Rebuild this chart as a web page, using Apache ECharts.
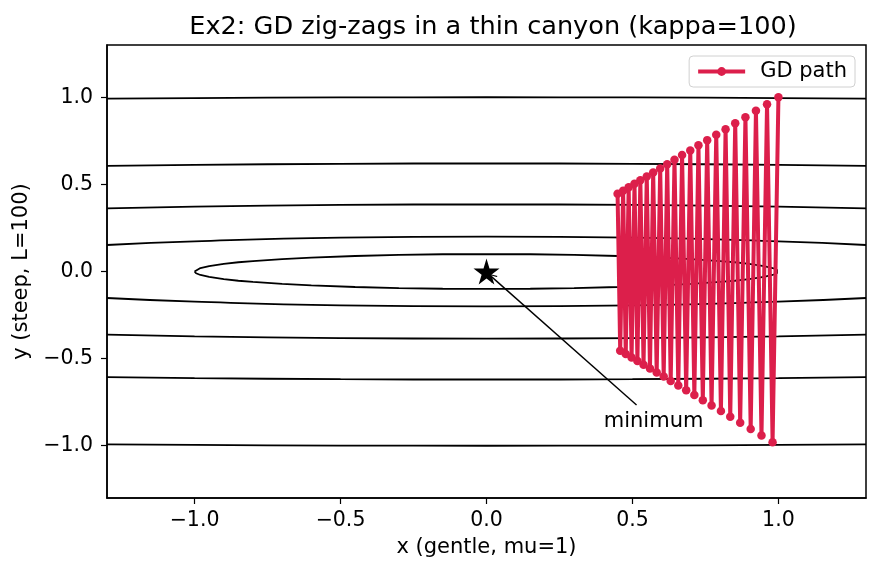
<!DOCTYPE html>
<html>
<head>
<meta charset="utf-8">
<script src="https://cdn.jsdelivr.net/npm/echarts@6/dist/echarts.min.js"></script>
<style>
  body { margin: 0; background: #fff; }
  #main { width: 880px; height: 573px; }
</style>
</head>
<body>
<div id="main"></div>
<script>
  // tick labels
  var ticks = [-1.0, -0.5, 0.0, 0.5, 1.0];

  // contour lines (upper half, mirrored below), read at these x positions
  var contourXs = [-1.3, -1.0, -0.5, 0.0, 0.5, 1.0, 1.3];
  var contourYs = [
    [0.152, 0.173, 0.194, 0.200, 0.194, 0.173, 0.152],
    [0.362, 0.372, 0.382, 0.385, 0.382, 0.372, 0.362],
    [0.606, 0.612, 0.618, 0.620, 0.618, 0.612, 0.606],
    [0.992, 0.995, 0.999, 1.000, 0.999, 0.995, 0.992]
  ];
  // inner closed contour
  var ellipseXs = [-1.0, -0.995, -0.98, -0.95, -0.9, -0.85, -0.8, -0.7, -0.6, -0.45, -0.3, -0.15, 0.0,
                   0.15, 0.3, 0.45, 0.6, 0.7, 0.8, 0.85, 0.9, 0.95, 0.98, 0.995, 1.0];
  var ellipseYs = [0.0, 0.010, 0.020, 0.031, 0.044, 0.053, 0.060, 0.071, 0.080, 0.089, 0.095, 0.099, 0.100,
                   0.099, 0.095, 0.089, 0.080, 0.071, 0.060, 0.053, 0.044, 0.031, 0.020, 0.010, 0.0];

  // GD path iterates
  var pathX = [1.000, 0.980, 0.961, 0.942, 0.923, 0.905, 0.887, 0.869, 0.852, 0.835,
               0.819, 0.803, 0.787, 0.771, 0.756, 0.741, 0.726, 0.712, 0.698, 0.684,
               0.670, 0.657, 0.644, 0.631, 0.619, 0.607, 0.595, 0.583, 0.571, 0.560,
               0.549, 0.538, 0.527, 0.517, 0.507, 0.497, 0.487, 0.477, 0.468, 0.458, 0.449];
  var pathY = [1.000, -0.980, 0.960, -0.941, 0.922, -0.904, 0.886, -0.868, 0.851, -0.834,
               0.817, -0.801, 0.785, -0.769, 0.754, -0.739, 0.724, -0.709, 0.695, -0.681,
               0.668, -0.654, 0.641, -0.628, 0.616, -0.603, 0.591, -0.580, 0.568, -0.557,
               0.545, -0.535, 0.524, -0.513, 0.503, -0.493, 0.483, -0.474, 0.464, -0.455, 0.446];

  var minimumPt = [0, 0];
  var arrowFrom = [0.514, -0.766];
  var arrowTo = [0.016, -0.028];
  var labelPt = [0.4, -0.9];

  var font = 'DejaVu Sans';
  var red = '#dc1f4b';
  var fmt = function (v) { return v.toFixed(1).replace('-', '\u2212'); };

  var series = [];
  contourYs.forEach(function (ys) {
    [1, -1].forEach(function (s) {
      series.push({
        type: 'line', silent: true, symbol: 'none', smooth: true, z: 1,
        lineStyle: { color: '#000', width: 1.8 },
        data: contourXs.map(function (x, i) { return [x, s * ys[i]]; })
      });
    });
  });
  var ell = ellipseXs.map(function (x, i) { return [x, ellipseYs[i]]; });
  for (var i = ellipseXs.length - 1; i >= 0; i--) ell.push([ellipseXs[i], -ellipseYs[i]]);
  series.push({
    type: 'line', silent: true, symbol: 'none', z: 1,
    lineStyle: { color: '#000', width: 1.8 },
    data: ell
  });

  series.push({
    name: 'GD path', type: 'line', z: 3,
    symbol: 'circle', symbolSize: 8.5,
    itemStyle: { color: red },
    lineStyle: { color: red, width: 4 },
    data: pathX.map(function (x, i) { return [x, pathY[i]]; })
  });

  series.push({
    type: 'scatter', silent: true, z: 4,
    symbol: 'path://M50,0 L61,35 L98,35 L68,57 L79,91 L50,70 L21,91 L32,57 L2,35 L39,35 Z',
    symbolSize: 26,
    itemStyle: { color: '#000', opacity: 1 },
    data: [minimumPt],
    markLine: {
      silent: true, animation: false,
      symbol: ['none', 'path://M0,10 L5,0 L10,10 L8.6,10 L5,2.8 L1.4,10 Z'],
      symbolSize: [9, 9],
      label: { show: false },
      lineStyle: { color: '#000', width: 1.4, type: 'solid', opacity: 1 },
      data: [[{ coord: arrowFrom }, { coord: arrowTo }]]
    }
  });

  // annotation text
  series.push({
    type: 'scatter', silent: true, z: 4,
    symbolSize: 1,
    itemStyle: { color: 'rgba(0,0,0,0)', opacity: 1 },
    label: {
      show: true, position: 'right', distance: 0, offset: [0, -7],
      formatter: 'minimum', color: '#000', fontFamily: font, fontSize: 21
    },
    data: [labelPt]
  });

  var myChart = echarts.init(document.getElementById('main'));
  var option = {
    animation: false,
    title: {
      text: 'Ex2: GD zig-zags in a thin canyon (kappa=100)',
      left: 488, top: 9, textAlign: 'center',
      textStyle: { fontFamily: font, fontSize: 25.6, fontWeight: 'normal', color: '#000' }
    },
    legend: {
      data: ['GD path'],
      right: 25, top: 56,
      itemWidth: 47, itemHeight: 11,
      padding: [5, 8, 5, 7],
      lineStyle: { width: 4 },
      borderColor: '#d0d0d0', borderWidth: 1, borderRadius: 4,
      textStyle: { fontFamily: font, fontSize: 21, color: '#000', padding: [0, 0, 0, 10] }
    },
    grid: {
      left: 107, right: 14, top: 45, bottom: 75,
      show: true, borderColor: '#000', borderWidth: 1.5
    },
    xAxis: {
      type: 'value', min: -1.3, max: 1.3,
      name: 'x (gentle, mu=1)', nameLocation: 'middle', nameGap: 39,
      nameTextStyle: { fontFamily: font, fontSize: 21, color: '#000' },
      axisLine: { show: true, onZero: false, lineStyle: { color: '#000', width: 1.5 } },
      axisTick: { show: true, length: 6, customValues: ticks, lineStyle: { color: '#000', width: 1.2 } },
      axisLabel: { customValues: ticks, formatter: fmt, fontFamily: font, fontSize: 20.5, color: '#000', margin: 12 },
      splitLine: { show: false }
    },
    yAxis: {
      type: 'value', min: -1.3, max: 1.3,
      name: 'y (steep, L=100)', nameLocation: 'middle', nameGap: 70, nameRotate: 90,
      nameTextStyle: { fontFamily: font, fontSize: 21, color: '#000' },
      axisLine: { show: true, onZero: false, lineStyle: { color: '#000', width: 1.5 } },
      axisTick: { show: true, length: 6, customValues: ticks, lineStyle: { color: '#000', width: 1.2 } },
      axisLabel: { customValues: ticks, formatter: fmt, fontFamily: font, fontSize: 20.5, color: '#000', margin: 14 },
      splitLine: { show: false }
    },
    series: series
  };
  myChart.setOption(option);
</script>
</body>
</html>
